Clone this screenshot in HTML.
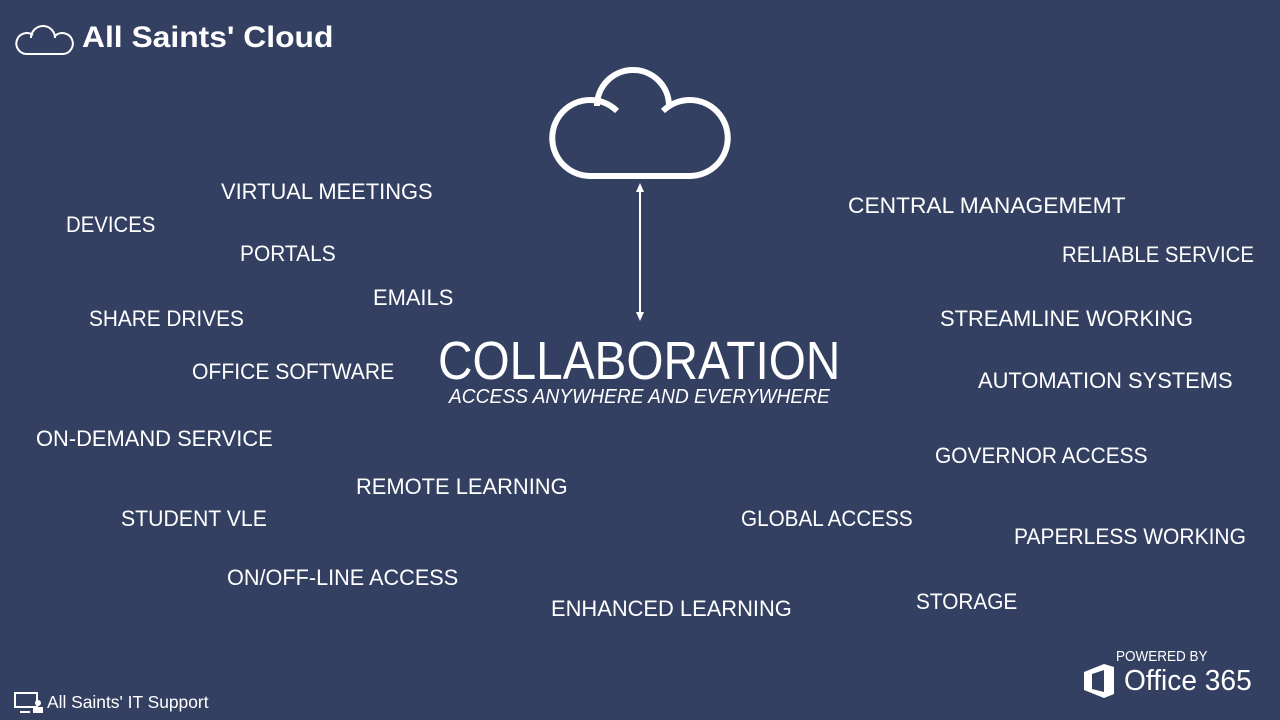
<!DOCTYPE html>
<html><head><meta charset="utf-8"><style>
html,body{margin:0;padding:0}
body{width:1280px;height:720px;background:#344062;position:relative;overflow:hidden;font-family:"Liberation Sans",sans-serif;color:#fff}
.t{position:absolute;font-size:22px;line-height:26px;white-space:nowrap;transform:scaleX(0.995);transform-origin:0 0}
</style></head><body>
<svg width="1280" height="720" style="position:absolute;left:0;top:0">
  <g fill="none" stroke="#fff" stroke-width="6">
    <line x1="588" y1="176" x2="692" y2="176"/>
    <path d="M590 176 A38 38 0 1 1 617 111"/>
    <path d="M690 176 A38 38 0 1 0 663 111"/>
    <path d="M597 106 A36 36 0 1 1 669 106"/>
  </g>
  <line x1="640" y1="188" x2="640" y2="316" stroke="#fff" stroke-width="2"/>
  <polygon points="640,183 636,192 644,192" fill="#fff"/>
  <polygon points="640,321 636,312 644,312" fill="#fff"/>
  <g fill="none" stroke="#fff" stroke-width="2">
    <line x1="27" y1="54" x2="63" y2="54"/>
    <path d="M27 54 A10.5 10.5 0 1 1 33 35"/>
    <path d="M63 54 A10.5 10.5 0 1 0 55 36"/>
    <path d="M31 38 A12 12 0 1 1 55 38"/>
  </g>
  <g fill="none" stroke="#fff" stroke-width="2">
    <rect x="15" y="693" width="22" height="14"/>
    <line x1="20" y1="712" x2="30" y2="712"/>
  </g>
  <circle cx="38" cy="703" r="3" fill="#fff"/>
  <rect x="33" y="707" width="10" height="6" fill="#fff"/>
  <path d="M1084 672 L1104 664 L1114 667 L1114 694 L1104 698 L1084 690 Z M1092 674 L1092 689 L1104 692 L1104 670 Z" fill="#fff" fill-rule="evenodd"/>
</svg>
<div style="position:absolute;left:82px;top:20px;font-size:30px;font-weight:bold;line-height:36px;transform:scaleX(1.06);transform-origin:0 0;white-space:nowrap">All Saints' Cloud</div>
<div style="position:absolute;left:47px;top:692px;font-size:17.4px;line-height:20px;white-space:nowrap">All Saints' IT Support</div>
<div style="position:absolute;left:1116px;top:648px;font-size:15px;line-height:18px;transform:scaleX(0.9);transform-origin:0 0;white-space:nowrap">POWERED BY</div>
<div style="position:absolute;left:1124px;top:664px;font-size:29px;line-height:34px;transform:scaleX(0.97);transform-origin:0 0;white-space:nowrap">Office 365</div>

<div style="position:absolute;left:438px;top:331px;font-size:54px;line-height:60px;transform:scaleX(0.884);transform-origin:0 0;white-space:nowrap">COLLABORATION</div>
<div style="position:absolute;left:449px;top:385px;font-size:20px;line-height:24px;font-style:italic;transform:scaleX(0.96);transform-origin:0 0;white-space:nowrap">ACCESS ANYWHERE AND EVERYWHERE</div>

<div class="t" style="left:221px;top:179px">VIRTUAL MEETINGS</div>
<div class="t" style="left:66px;top:212px;transform:scaleX(0.925)">DEVICES</div>
<div class="t" style="left:240px;top:241px;transform:scaleX(0.95)">PORTALS</div>
<div class="t" style="left:373px;top:285px">EMAILS</div>
<div class="t" style="left:89px;top:306px;transform:scaleX(0.945)">SHARE DRIVES</div>
<div class="t" style="left:192px;top:359px;transform:scaleX(0.96)">OFFICE SOFTWARE</div>
<div class="t" style="left:36px;top:426px">ON-DEMAND SERVICE</div>
<div class="t" style="left:356px;top:474px">REMOTE LEARNING</div>
<div class="t" style="left:121px;top:506px;transform:scaleX(0.965)">STUDENT VLE</div>
<div class="t" style="left:227px;top:565px;transform:scaleX(0.985)">ON/OFF-LINE ACCESS</div>
<div class="t" style="left:551px;top:596px">ENHANCED LEARNING</div>
<div class="t" style="left:848px;top:193px;transform:scaleX(1.035)">CENTRAL MANAGEMEMT</div>
<div class="t" style="left:1062px;top:242px;transform:scaleX(0.925)">RELIABLE SERVICE</div>
<div class="t" style="left:940px;top:306px">STREAMLINE WORKING</div>
<div class="t" style="left:978px;top:368px">AUTOMATION SYSTEMS</div>
<div class="t" style="left:935px;top:443px;transform:scaleX(0.95)">GOVERNOR ACCESS</div>
<div class="t" style="left:741px;top:506px;transform:scaleX(0.94)">GLOBAL ACCESS</div>
<div class="t" style="left:1014px;top:524px;transform:scaleX(0.955)">PAPERLESS WORKING</div>
<div class="t" style="left:916px;top:589px;transform:scaleX(0.945)">STORAGE</div>
</body></html>
